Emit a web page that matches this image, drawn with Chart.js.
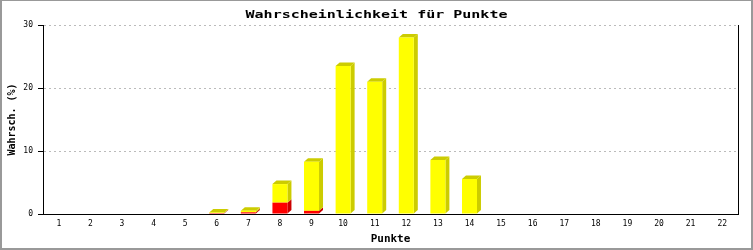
<!DOCTYPE html>
<html><head><meta charset="utf-8">
<script src="https://cdn.jsdelivr.net/npm/chart.js@4/dist/chart.umd.min.js"></script>
<style>html,body{margin:0;padding:0;background:#fff;}canvas{display:block;}</style>
</head><body>
<canvas id="c" width="753" height="250"></canvas>
<script>
const categories = ['1','2','3','4','5','6','7','8','9','10','11','12','13','14','15','16','17','18','19','20','21','22'];
const redValues    = [0,0,0,0,0,0.15,0.27,1.8,0.5,0,0,0,0,0,0,0,0,0,0,0,0,0];
const yellowValues = [0,0,0,0,0,0.1,0.26,2.95,7.8,23.5,21.0,28.0,8.57,5.56,0,0,0,0,0,0,0,0];
const yMin = 0, yMax = 30, yStep = 10;
const chartTitle = 'Wahrscheinlichkeit für Punkte';
const xTitle = 'Punkte';
const yTitle = 'Wahrsch. (%)';

const MONO = "'DejaVu Sans Mono', 'Liberation Mono', monospace";
const sideColors = ['#cc0000', '#cccc00'];

const depthPlugin = {
  id: 'depth3d',
  beforeDatasetsDraw(chart) {
    const ctx = chart.ctx;
    const dx = 4, dy = 3.5;
    const n = chart.data.labels.length;
    const metas = chart.data.datasets.map((d, i) => chart.getDatasetMeta(i));
    ctx.save();
    metas.forEach((meta, di) => {
      meta.data.forEach((el, i) => {
        const v = chart.data.datasets[di].data[i];
        if (!v) return;
        const right = el.x + el.width / 2;
        const top = Math.min(el.y, el.base), bottom = Math.max(el.y, el.base);
        ctx.fillStyle = sideColors[di];
        ctx.beginPath();
        ctx.moveTo(right, top);
        ctx.lineTo(right + dx, top - dy);
        ctx.lineTo(right + dx, bottom - dy);
        ctx.lineTo(right, bottom);
        ctx.closePath();
        ctx.fill();
      });
    });
    for (let i = 0; i < n; i++) {
      let topDi = -1;
      chart.data.datasets.forEach((d, di) => { if (d.data[i]) topDi = di; });
      if (topDi < 0) continue;
      const el = metas[topDi].data[i];
      const left = el.x - el.width / 2, right = el.x + el.width / 2;
      const top = Math.min(el.y, el.base);
      ctx.fillStyle = sideColors[topDi];
      ctx.beginPath();
      ctx.moveTo(left, top);
      ctx.lineTo(left + dx, top - dy);
      ctx.lineTo(right + dx, top - dy);
      ctx.lineTo(right, top);
      ctx.closePath();
      ctx.fill();
    }
    ctx.restore();
  }
};

const titleStretchPlugin = {
  id: 'titleStretch',
  beforeDraw(chart) {
    const tb = chart.titleBlock;
    if (tb && !tb._stretched) {
      const orig = tb.draw.bind(tb);
      tb.draw = function () {
        const ctx = this.ctx;
        const cx = (this.left + this.right) / 2;
        ctx.save();
        ctx.translate(cx, 0);
        ctx.scale(1.5, 1);
        ctx.translate(-cx, 0);
        orig();
        ctx.restore();
      };
      tb._stretched = true;
    }
  }
};

const framePlugin = {
  id: 'frame',
  afterDraw(chart) {
    const ctx = chart.ctx;
    const w = chart.width, h = chart.height;
    ctx.save();
    ctx.fillStyle = '#999999';
    ctx.fillRect(0, 0, w, 1);
    ctx.fillRect(0, 0, 2, h);
    ctx.fillRect(w - 2, 0, 2, h);
    ctx.fillRect(0, h - 2, w, 2);
    ctx.restore();
  }
};

new Chart(document.getElementById('c'), {
  type: 'bar',
  data: {
    labels: categories,
    datasets: [
      { data: redValues, backgroundColor: '#ff0000', borderWidth: 0, barPercentage: 0.475, categoryPercentage: 1 },
      { data: yellowValues, backgroundColor: '#ffff00', borderWidth: 0, barPercentage: 0.475, categoryPercentage: 1 }
    ]
  },
  options: {
    responsive: false,
    animation: false,
    devicePixelRatio: 1,
    layout: { padding: 0 },
    plugins: {
      legend: { display: false },
      tooltip: { enabled: false },
      title: {
        display: true,
        text: chartTitle,
        color: '#000',
        font: { family: MONO, size: 10, weight: 'bold', lineHeight: 1.2 },
        padding: { top: 9, bottom: 4 }
      }
    },
    scales: {
      x: {
        stacked: true,
        offset: true,
        grid: { display: false, drawTicks: false, tickLength: 0 },
        border: { display: true, color: '#000', width: 1 },
        ticks: { color: '#000', font: { family: MONO, size: 8 }, padding: 5, maxRotation: 0, autoSkip: false },
        title: { display: true, text: xTitle, color: '#000', font: { family: MONO, size: 11, weight: 'bold', lineHeight: 1.2 }, padding: { top: 0, bottom: 4 } },
        afterFit(s) { s.height = 36; }
      },
      y: {
        stacked: true,
        min: yMin, max: yMax,
        ticks: { stepSize: yStep, color: '#000', font: { family: MONO, size: 8 }, padding: 5 },
        grid: {
          color: (c) => (c.tick && c.tick.value === 0) ? 'rgba(0,0,0,0)' : '#bbbbbb',
          tickColor: '#000', tickLength: 5, drawTicks: true, lineWidth: 1
        },
        border: { display: true, color: '#000', width: 1, dash: [2, 3] },
        title: { display: true, text: yTitle, color: '#000', font: { family: MONO, size: 10, weight: 'bold', lineHeight: 1.2 }, padding: { top: 6.5, bottom: 0 } },
        afterFit(s) { s.width = 43; }
      },
      y2: {
        position: 'right',
        min: yMin, max: yMax,
        ticks: { display: false },
        grid: { display: false, drawTicks: false },
        border: { display: true, color: '#000', width: 1 },
        afterFit(s) { s.width = 15; }
      }
    }
  },
  plugins: [depthPlugin, titleStretchPlugin, framePlugin]
});
</script>
</body></html>
